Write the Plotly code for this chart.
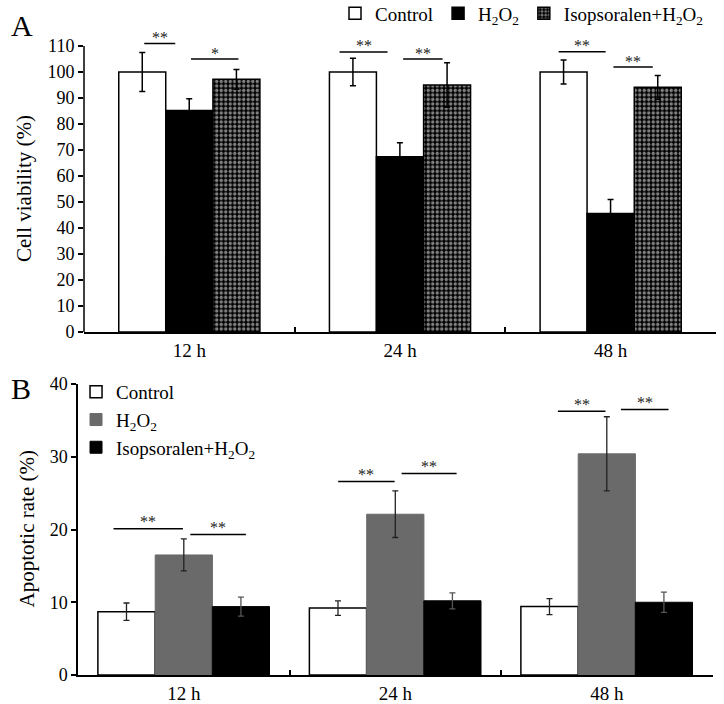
import plotly.graph_objects as go

# ---------------- data ----------------
times = ["12 h", "24 h", "48 h"]

via_ctrl = [100.0, 100.0, 100.0]
via_ctrl_err = [7.5, 5.3, 4.6]
via_h2o2 = [85.2, 67.4, 45.6]
via_h2o2_err = [4.5, 5.4, 5.4]
via_iso = [97.2, 95.0, 94.1]
via_iso_err = [3.8, 8.6, 4.6]

apo_ctrl = [8.7, 9.2, 9.4]
apo_ctrl_err = [1.2, 1.0, 1.1]
apo_h2o2 = [16.5, 22.1, 30.4]
apo_h2o2_err = [2.2, 3.2, 5.1]
apo_iso = [9.4, 10.2, 10.0]
apo_iso_err = [1.3, 1.1, 1.4]

via_ticks = [0, 10, 20, 30, 40, 50, 60, 70, 80, 90, 100, 110]
apo_ticks = [0, 10, 20, 30, 40]

# significance brackets: (group, start offset, end offset, level, label)
sig_a = [(0, -0.214, -0.067, 111.0, "**"), (0, 0.008, 0.233, 105.0, "*"),
         (1, -0.287, -0.059, 107.7, "**"), (1, 0.015, 0.202, 105.0, "**"),
         (2, -0.247, -0.024, 107.8, "**"), (2, 0.013, 0.200, 101.9, "**")]
sig_b = [(0, -0.332, -0.004, 20.1, "**"), (0, 0.031, 0.294, 19.3, "**"),
         (1, -0.270, -0.003, 26.6, "**"), (1, 0.030, 0.290, 27.7, "**"),
         (2, -0.231, -0.006, 36.25, "**"), (2, 0.067, 0.292, 36.5, "**")]

H2O2 = "H<sub>2</sub>O<sub>2</sub>"
ISO = "Isopsoralen+H<sub>2</sub>O<sub>2</sub>"

FONT = "Liberation Serif"

# ---------------- figure ----------------
fig = go.Figure()

wa, wb = 0.223, 0.2705
offs_a = [-0.335, -0.112, 0.112]
offs_b = [-0.406, -0.135, 0.135]

def err(arr, color="black", thick=1.5):
    return dict(type="data", array=arr, color=color, thickness=thick, width=3, visible=True)

# Panel A
fig.add_trace(go.Bar(x=times, y=via_ctrl, name="Control", width=wa, offset=offs_a[0],
                     marker=dict(color="white", line=dict(color="black", width=1.5)),
                     error_y=err(via_ctrl_err), xaxis="x", yaxis="y", legend="legend"))
fig.add_trace(go.Bar(x=times, y=via_h2o2, name=H2O2, width=wa, offset=offs_a[1],
                     marker=dict(color="black", line=dict(color="black", width=1.5)),
                     error_y=err(via_h2o2_err), xaxis="x", yaxis="y", legend="legend"))
fig.add_trace(go.Bar(x=times, y=via_iso, name=ISO, width=wa, offset=offs_a[2],
                     marker=dict(color="black", line=dict(color="black", width=1.5),
                                 pattern=dict(shape=".", fgcolor="white", bgcolor="black",
                                              size=4.5, solidity=0.45, fillmode="overlay")),
                     error_y=err(via_iso_err), xaxis="x", yaxis="y", legend="legend"))

# Panel B
fig.add_trace(go.Bar(x=times, y=apo_ctrl, name="Control", width=wb, offset=offs_b[0],
                     marker=dict(color="white", line=dict(color="black", width=1.5)),
                     error_y=err(apo_ctrl_err, "#222222", 1.3), xaxis="x2", yaxis="y2", legend="legend2"))
fig.add_trace(go.Bar(x=times, y=apo_h2o2, name=H2O2, width=wb, offset=offs_b[1],
                     marker=dict(color="#6a6a6a", line=dict(color="#6a6a6a", width=1)),
                     error_y=err(apo_h2o2_err, "#222222", 1.3), xaxis="x2", yaxis="y2", legend="legend2"))
fig.add_trace(go.Bar(x=times, y=apo_iso, name=ISO, width=wb, offset=offs_b[2],
                     marker=dict(color="black", line=dict(color="black", width=1)),
                     error_y=err(apo_iso_err, "#555555", 1.3), xaxis="x2", yaxis="y2", legend="legend2"))

shapes = []
annotations = []
for g, a, b, lvl, lab in sig_a:
    shapes.append(dict(type="line", xref="x", yref="y", x0=g + a, x1=g + b, y0=lvl, y1=lvl,
                       line=dict(color="black", width=1.5)))
    annotations.append(dict(xref="x", yref="y", x=g + (a + b) / 2, y=lvl, text=lab,
                            showarrow=False, xanchor="center", yanchor="middle", yshift=6,
                            font=dict(family=FONT, size=16, color="#222222")))
for g, a, b, lvl, lab in sig_b:
    shapes.append(dict(type="line", xref="x2", yref="y2", x0=g + a, x1=g + b, y0=lvl, y1=lvl,
                       line=dict(color="black", width=1.5)))
    annotations.append(dict(xref="x2", yref="y2", x=g + (a + b) / 2, y=lvl, text=lab,
                            showarrow=False, xanchor="center", yanchor="middle", yshift=7,
                            font=dict(family=FONT, size=16, color="#222222")))

xa_dom = [84 / 724, 716 / 724]
xb_dom = [78 / 724, 712.5 / 724]

# y axis line of panel A (only up to 110)
shapes.append(dict(type="line", xref="paper", yref="y", x0=xa_dom[0], x1=xa_dom[0],
                   y0=via_ticks[0], y1=via_ticks[-1], line=dict(color="black", width=1.5)))

# axis titles and panel letters
annotations += [
    dict(xref="paper", yref="y", x=24 / 724, y=55, text="Cell viability (%)", textangle=-90,
         xanchor="center", yanchor="middle",
         showarrow=False, font=dict(family=FONT, size=21, color="black")),
    dict(xref="paper", yref="y2", x=26 / 724, y=20, text="Apoptotic rate (%)", textangle=-90,
         xanchor="center", yanchor="middle",
         showarrow=False, font=dict(family=FONT, size=21, color="black")),
    dict(xref="paper", yref="paper", x=22 / 724, y=1 - 25 / 704, text="A", showarrow=False,
         xanchor="center", yanchor="middle",
         font=dict(family=FONT, size=30, color="black")),
    dict(xref="paper", yref="paper", x=21 / 724, y=1 - 388 / 704, text="B", showarrow=False,
         xanchor="center", yanchor="middle",
         font=dict(family=FONT, size=30, color="black")),
]

tick_font = dict(family=FONT, size=18, color="black")
cat_font = dict(family=FONT, size=19, color="black")
common_x = dict(type="category", showline=True, linecolor="black", linewidth=1.5,
                ticks="inside", tickson="boundaries", ticklen=5, tickwidth=1.5, tickcolor="black",
                showgrid=False, zeroline=False, tickfont=cat_font, fixedrange=True,
                automargin=False, range=[-0.5, 2.5])
common_y = dict(ticks="outside", ticklen=5, tickwidth=1.5, tickcolor="black", automargin=False,
                showgrid=False, zeroline=False, tickfont=tick_font, linecolor="black", linewidth=1.5)

fig.update_layout(
    template="none",
    width=724, height=704,
    margin=dict(l=0, r=0, t=0, b=0, pad=0, autoexpand=False),
    paper_bgcolor="white", plot_bgcolor="white",
    font=dict(family=FONT, size=18, color="black"),
    barmode="overlay",
    xaxis=dict(domain=xa_dom, anchor="y", **common_x),
    yaxis=dict(domain=[(704 - 332) / 704, (704 - 25.2) / 704], anchor="x", range=[0, 118],
               tickvals=via_ticks, showline=False, **common_y),
    xaxis2=dict(domain=xb_dom, anchor="y2", **common_x),
    yaxis2=dict(domain=[(704 - 675) / 704, (704 - 384) / 704], anchor="x2", range=[0, 40],
                tickvals=apo_ticks, showline=True, **common_y),
    legend=dict(orientation="h", x=335 / 724, y=1.008, xanchor="left", yanchor="top",
                bgcolor="rgba(0,0,0,0)", font=dict(family=FONT, size=19, color="black"),
                itemwidth=30, traceorder="normal"),
    legend2=dict(orientation="v", x=0.105, y=1 - 373 / 704, xanchor="left", yanchor="top",
                 bgcolor="rgba(0,0,0,0)", font=dict(family=FONT, size=19, color="black"),
                 itemwidth=30, traceorder="normal", tracegroupgap=0),
    shapes=shapes,
    annotations=annotations,
    showlegend=True,
)

fig.write_html("out.html", config={"displayModeBar": False},
               post_script="document.body.style.margin='0px';")
